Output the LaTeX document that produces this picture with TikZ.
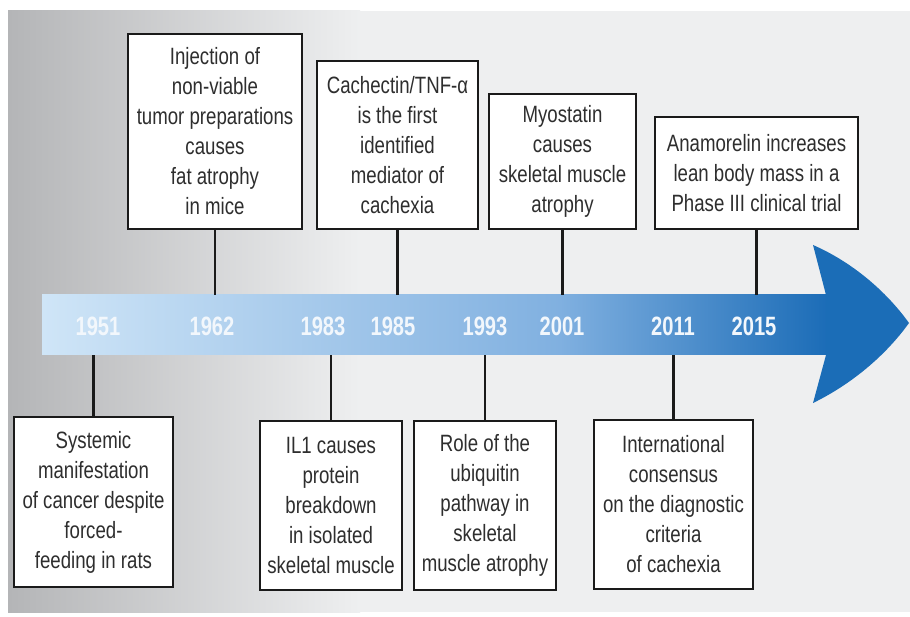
\documentclass[tikz,border=0pt]{standalone}
\usepackage{fontspec}
\setmainfont[FakeStretch=0.79]{Liberation Sans}
\newfontfamily\yearfont[FakeStretch=0.76]{Liberation Sans}
\definecolor{bgdark}{HTML}{B4B5B7}
\definecolor{bglight}{HTML}{EEEFF0}
\definecolor{arA}{HTML}{CFE5F7}
\definecolor{arB}{HTML}{80B0E0}
\definecolor{arC}{HTML}{1B6CB7}
\definecolor{headcol}{HTML}{1B6DB7}
\definecolor{boxline}{HTML}{1A1A1A}
\definecolor{txt}{HTML}{2E2E2E}
\definecolor{yeartxt}{HTML}{F2F7FC}
\tikzset{
  evbox/.style={draw=boxline, line width=2.7pt, fill=white, text=txt, align=center,
    inner sep=0pt, font=\fontsize{23.6}{30}\selectfont},
  yr/.style={anchor=base, text=yeartxt, font=\yearfont\bfseries\fontsize{26.5}{30}\selectfont},
  conn/.style={draw=boxline, line width=2.3pt}
}
\begin{document}
\begin{tikzpicture}[x=1pt,y=-1pt]
\useasboundingbox (0,0) rectangle (910,617);
% background
\fill[white] (0,0) rectangle (910,617);
\shade[left color=bgdark, right color=bglight] (8,11) rectangle (360,612);
\fill[bglight] (359.5,11) rectangle (910,612);
% arrow body
\shade[left color=arA, right color=arB] (42,295) rectangle (560.5,355);
\shade[left color=arB, right color=arC] (560,295) rectangle (828,355);
% arrow head
\fill[headcol] (826,295) -- (813,245) .. controls (852,262) and (886,291) .. (909,323)
  .. controls (886,355) and (852,384) .. (813,403) -- (826,355) -- cycle;
\coordinate (top) at (0,295);
\coordinate (bot) at (0,355);
% years
\node[yr] (y1951) at (98,336) {1951};
\node[yr] (y1962) at (212,336) {1962};
\node[yr] (y1983) at (323,336) {1983};
\node[yr] (y1985) at (393,336) {1985};
\node[yr] (y1993) at (485,336) {1993};
\node[yr] (y2001) at (562,336) {2001};
\node[yr] (y2011) at (673,336) {2011};
\node[yr] (y2015) at (754,336) {2015};
% top boxes
\node[evbox, minimum width=174pt, minimum height=195pt] (b1962) at (215,131.5)
  {Injection of\\non-viable\\tumor preparations\\causes\\fat atrophy\\in mice};
\node[evbox, minimum width=161pt, minimum height=168pt] (b1985) at (397.5,145)
  {Cachectin/TNF-α\\is the first\\identified\\mediator of\\cachexia};
\node[evbox, minimum width=147pt, minimum height=135pt] (b2001) at (562.5,161.5)
  {Myostatin\\causes\\skeletal muscle\\atrophy};
\node[evbox, minimum width=203pt, minimum height=112pt] (b2015) at (756.5,173)
  {Anamorelin increases\\lean body mass in a\\Phase III clinical trial};
% bottom boxes
\node[evbox, minimum width=159pt, minimum height=170pt] (b1951) at (93.5,502)
  {Systemic\\manifestation\\of cancer despite\\forced-\\feeding in rats};
\node[evbox, minimum width=142pt, minimum height=169pt] (b1983) at (331,505.5)
  {IL1 causes\\protein\\breakdown\\in isolated\\skeletal muscle};
\node[evbox, minimum width=142pt, minimum height=169pt] (b1993) at (485,505.5)
  {Role of the\\ubiquitin\\pathway in\\skeletal\\muscle atrophy};
\node[evbox, minimum width=159pt, minimum height=169pt] (b2011) at (673.5,504.5)
  {International\\consensus\\on the diagnostic\\criteria\\of cachexia};
% connectors
\draw[conn] (b1962.south) -- (b1962.south |- top);
\draw[conn] (b1985.south) -- (b1985.south |- top);
\draw[conn] (b2001.south) -- (b2001.south |- top);
\draw[conn] (b2015.south) -- (b2015.south |- top);
\draw[conn] (b1951.north) -- (b1951.north |- bot);
\draw[conn] (b1983.north) -- (b1983.north |- bot);
\draw[conn] (b1993.north) -- (b1993.north |- bot);
\draw[conn] (b2011.north) -- (b2011.north |- bot);
\end{tikzpicture}
\end{document}
